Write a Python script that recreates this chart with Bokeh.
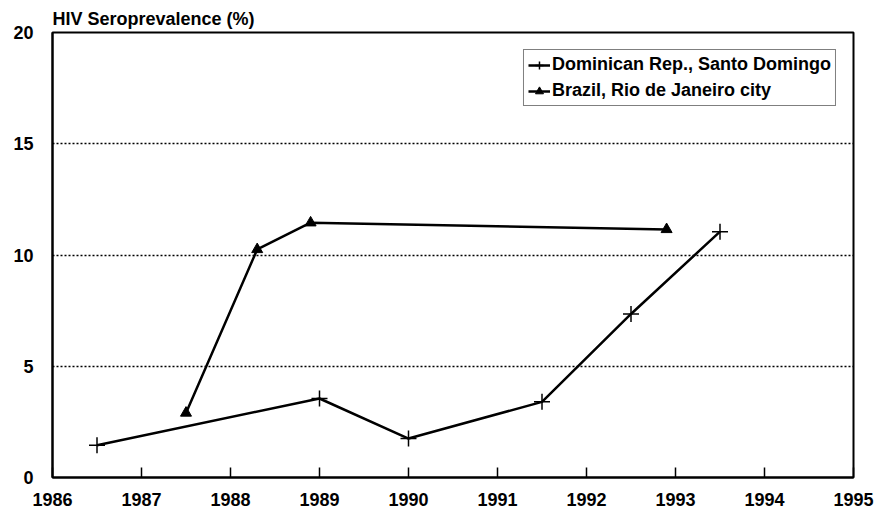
from bokeh.plotting import figure
from bokeh.models import Range1d, FixedTicker, Title, Legend, LegendItem
from bokeh.embed import file_html
from bokeh.resources import INLINE

# Data
dom_years = [1986.5, 1989.0, 1990.0, 1991.5, 1992.5, 1993.5]
dom_vals = [1.45, 3.55, 1.75, 3.4, 7.35, 11.05]
bra_years = [1987.5, 1988.3, 1988.9, 1992.9]
bra_vals = [2.9, 10.25, 11.45, 11.15]

x_ticks = [1986, 1987, 1988, 1989, 1990, 1991, 1992, 1993, 1994, 1995]
y_ticks = [0, 5, 10, 15, 20]

dom_label = "Dominican Rep., Santo Domingo"
bra_label = "Brazil, Rio de Janeiro city"
y_title = "HIV Seroprevalence (%)"

FONT = "Liberation Sans"

p = figure(width=878, height=513, output_backend="svg", toolbar_location=None,
           x_range=Range1d(1986, 1995), y_range=Range1d(0, 20),
           min_border_left=52, min_border_right=25, min_border_top=32, min_border_bottom=36)

p.background_fill_color = "white"
p.border_fill_color = "white"
p.outline_line_color = "black"
p.outline_line_width = 2

# axes
p.xaxis.ticker = FixedTicker(ticks=x_ticks)
p.yaxis.ticker = FixedTicker(ticks=y_ticks)
p.axis.axis_line_color = "black"
p.axis.axis_line_width = 2
p.axis.major_label_text_font = FONT
p.axis.major_label_text_font_style = "bold"
p.axis.major_label_text_font_size = "18px"
p.axis.major_label_text_color = "black"
p.axis.minor_tick_line_color = None

p.xaxis.major_tick_in = 10
p.xaxis.major_tick_out = 0
p.xaxis.major_tick_line_width = 1.5
p.xaxis.major_tick_line_color = "black"
p.xaxis.major_label_standoff = 15

p.yaxis.major_tick_line_color = None
p.yaxis.major_label_standoff = 13

p.xgrid.grid_line_color = None
p.ygrid.grid_line_color = "black"
p.ygrid.grid_line_dash = "2 2"
p.ygrid.grid_line_width = 1.3

# series
l1 = p.line(dom_years, dom_vals, line_color="black", line_width=2.5)
s1 = p.scatter(dom_years, dom_vals, marker="cross", size=16, line_color="black", line_width=1.5)
l2 = p.line(bra_years, bra_vals, line_color="black", line_width=2.5)
s2 = p.scatter(bra_years, bra_vals, marker="triangle", size=11, line_color="black",
               fill_color="black")

legend = Legend(items=[LegendItem(label=dom_label, renderers=[l1, s1]),
                       LegendItem(label=bra_label, renderers=[l2, s2])],
                location="top_right")
legend.margin = 17
legend.padding = 4
legend.spacing = 5
legend.glyph_width = 22
legend.glyph_height = 20
legend.label_height = 20
legend.label_standoff = 2
legend.label_text_font = FONT
legend.label_text_font_style = "bold"
legend.label_text_font_size = "18px"
legend.label_text_color = "black"
legend.border_line_color = "black"
legend.border_line_width = 1.5
legend.background_fill_color = "white"
legend.background_fill_alpha = 1
p.add_layout(legend)

title = Title(text=y_title, align="left", text_font=FONT, text_font_style="bold",
              text_font_size="18px", text_color="black", standoff=8, offset=0)
p.add_layout(title, "above")

open("out.html", "w").write(file_html(p, INLINE))
